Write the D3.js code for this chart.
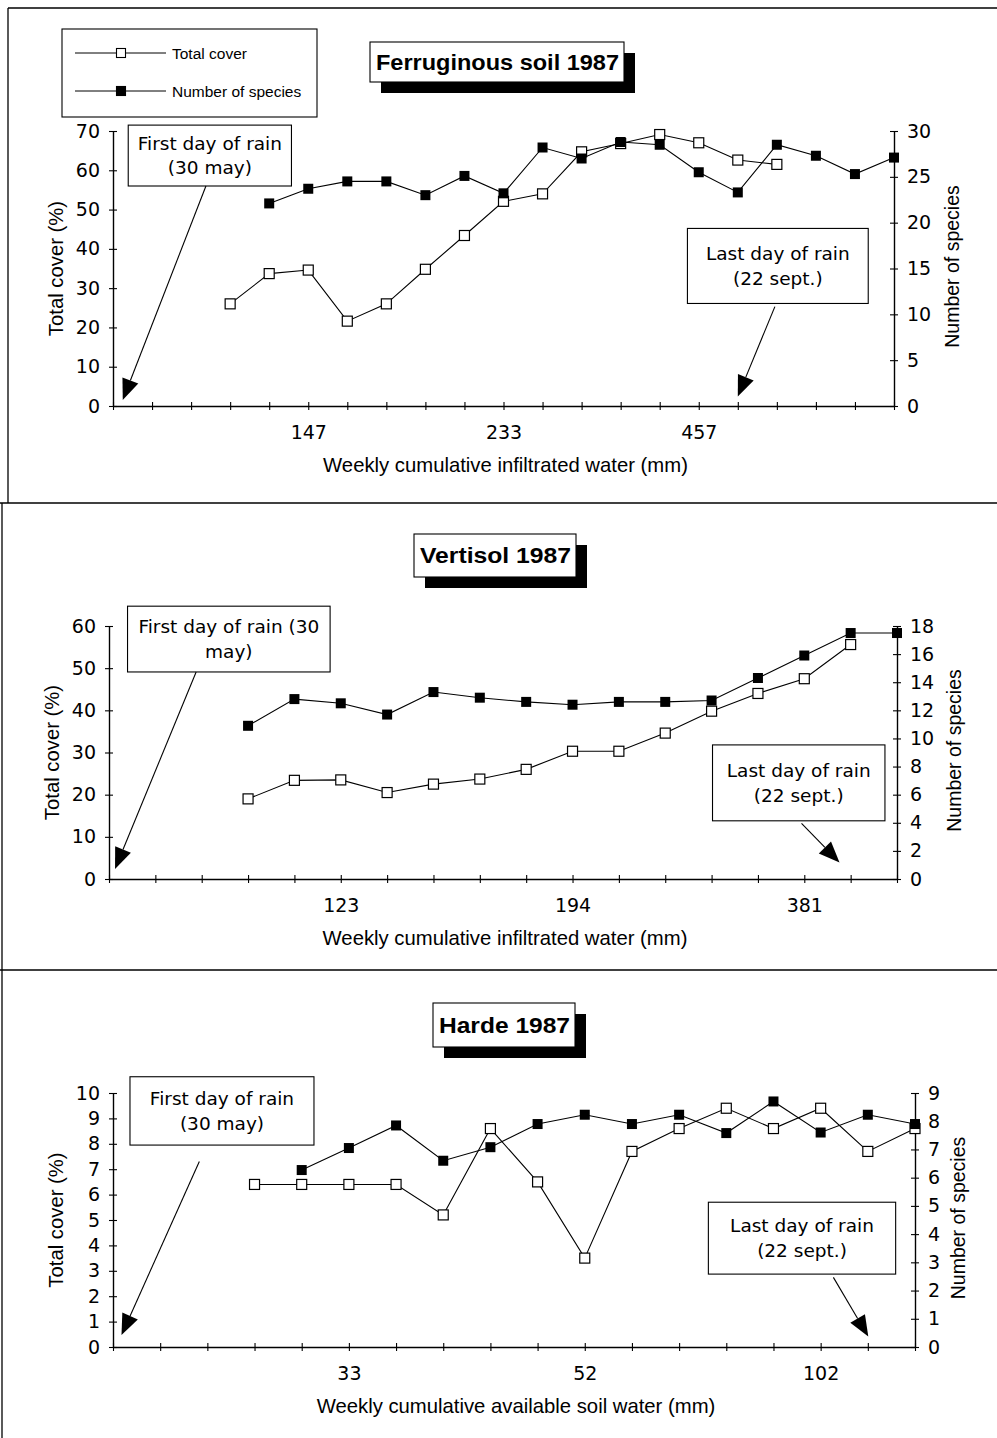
<!DOCTYPE html>
<html><head><meta charset="utf-8">
<script src="https://cdn.jsdelivr.net/npm/d3@7"></script>
<style>body{margin:0;background:#fff} svg{display:block}</style>
</head><body>
<svg id="c" width="997" height="1438"></svg>
<script>
// ---------- DATA ----------
const seriesNames = ["Total cover", "Number of species"];

const ferrTitle = "Ferruginous soil 1987";
const ferrXTitle = "Weekly cumulative infiltrated water (mm)";
const ferrXLabels = ["","","","","","147","","","","","233","","","","","457","","","","",""];
const ferrCover   = [null,null,null,26,33.7,34.6,21.6,26,34.8,43.4,52.1,54,64.7,66.8,69.1,67,62.6,61.5,null,null,null];
const ferrSpecies = [null,null,null,null,22.1,23.7,24.5,24.5,23,25.1,23.2,28.2,27,28.8,28.5,25.5,23.3,28.5,27.3,25.3,27.1];
const ferrCoverTicks   = [0,10,20,30,40,50,60,70];
const ferrSpeciesTicks = [0,5,10,15,20,25,30];

const vertTitle = "Vertisol 1987";
const vertXTitle = "Weekly cumulative infiltrated water (mm)";
const vertXLabels = ["","","","","","123","","","","","194","","","","","381","",""];
const vertCover   = [null,null,null,19,23.4,23.5,20.5,22.5,23.7,26,30.3,30.3,34.6,39.8,44,47.5,55.6,null];
const vertSpecies = [null,null,null,10.9,12.8,12.5,11.7,13.3,12.9,12.6,12.4,12.6,12.6,12.7,14.3,15.9,17.5,17.5];
const vertCoverTicks   = [0,10,20,30,40,50,60];
const vertSpeciesTicks = [0,2,4,6,8,10,12,14,16,18];

const hardeTitle = "Harde 1987";
const hardeXTitle = "Weekly cumulative available soil water (mm)";
const hardeXLabels = ["","","","","","33","","","","","52","","","","","102","",""];
const hardeCover   = [null,null,null,6.4,6.4,6.4,6.4,5.2,8.6,6.5,3.5,7.7,8.6,9.4,8.6,9.4,7.7,8.6];
const hardeSpecies = [null,null,null,null,6.27,7.05,7.85,6.6,7.08,7.9,8.23,7.9,8.23,7.58,8.7,7.6,8.23,7.9];
const hardeCoverTicks   = [0,1,2,3,4,5,6,7,8,9,10];
const hardeSpeciesTicks = [0,1,2,3,4,5,6,7,8,9];

const yLeftTitle = "Total cover (%)";
const yRightTitle = "Number of species";
const firstRainLines = ["First day of rain", "(30 may)"];
const firstRainLines2 = ["First day of rain (30", "may)"];
const lastRainLines = ["Last day of rain", "(22 sept.)"];

// ---------- LAYOUT ----------
const svg = d3.select("#c");
const TICKF = "'DejaVu Sans', Verdana, sans-serif";
const TXTF = "'Liberation Sans', Arial, sans-serif";

// frames
const frame = svg.append("g").attr("stroke","#000").attr("stroke-width",1.3).attr("fill","none");
frame.append("line").attr("x1",8).attr("y1",8).attr("x2",997).attr("y2",8);
frame.append("line").attr("x1",8).attr("y1",8).attr("x2",8).attr("y2",503);
frame.append("line").attr("x1",0).attr("y1",503).attr("x2",997).attr("y2",503);
frame.append("line").attr("x1",2).attr("y1",503).attr("x2",2).attr("y2",1438);
frame.append("line").attr("x1",0).attr("y1",970).attr("x2",997).attr("y2",970);

const panels = [
  {title: ferrTitle, titleX: 370, titleBase: 70, titleTop: 42, titleH: 40, titleW: 243,
   xTitle: ferrXTitle, xLabels: ferrXLabels, cover: ferrCover, species: ferrSpecies,
   cTicks: ferrCoverTicks, sTicks: ferrSpeciesTicks,
   left: 113, right: 894, top: 131, bottom: 406, rOff: 65,
   ann: [
     {lines: firstRainLines, box: [0.39, 4.57, 71.5, 56.0], from: [2.38, 56], to: [0.25, 1.5]},
     {lines: lastRainLines, box: [14.71, 19.34, 45.2, 26.1], from: [16.95, 25.3], to: [16.0, 2.4]}
   ]},
  {title: vertTitle, titleX: 414, titleBase: 563, titleTop: 534, titleH: 43, titleW: 151,
   xTitle: vertXTitle, xLabels: vertXLabels, cover: vertCover, species: vertSpecies,
   cTicks: vertCoverTicks, sTicks: vertSpeciesTicks,
   left: 109, right: 897, top: 626, bottom: 879, rOff: 64,
   ann: [
     {lines: firstRainLines2, box: [0.40, 4.77, 64.7, 49.1], from: [1.88, 49.1], to: [0.13, 2.4]},
     {lines: lastRainLines, box: [13.02, 16.74, 31.8, 13.8], from: [14.94, 13.2], to: [15.76, 3.9]}
   ]},
  {title: hardeTitle, titleX: 433, titleBase: 1033, titleTop: 1003, titleH: 44, titleW: 131,
   xTitle: hardeXTitle, xLabels: hardeXLabels, cover: hardeCover, species: hardeSpecies,
   cTicks: hardeCoverTicks, sTicks: hardeSpeciesTicks,
   left: 113, right: 915, top: 1093, bottom: 1347, rOff: 50,
   ann: [
     {lines: firstRainLines, box: [0.36, 4.26, 10.64, 7.95], from: [1.83, 7.3], to: [0.18, 0.47]},
     {lines: lastRainLines, box: [12.62, 16.59, 5.70, 2.87], from: [15.27, 2.74], to: [16.01, 0.41]}
   ]}
];

function drawArrow(g, x1, y1, x2, y2) {
  const dx = x2 - x1, dy = y2 - y1, L = Math.hypot(dx, dy);
  const ux = dx / L, uy = dy / L, hl = 21, hw = 8.5;
  const bx = x2 - ux * hl, by = y2 - uy * hl;
  g.append("line").attr("x1", x1).attr("y1", y1).attr("x2", bx).attr("y2", by)
    .attr("stroke", "#000").attr("stroke-width", 1.1);
  g.append("path")
    .attr("d", `M${x2},${y2}L${bx - uy * hw},${by + ux * hw}L${bx + uy * hw},${by - ux * hw}Z`)
    .attr("fill", "#000");
}

panels.forEach(p => {
  const n = p.xLabels.length;
  const x = d3.scaleLinear().domain([0, n - 1]).range([p.left, p.right]);
  const yL = d3.scaleLinear().domain([0, d3.max(p.cTicks)]).range([p.bottom, p.top]);
  const yR = d3.scaleLinear().domain([0, d3.max(p.sTicks)]).range([p.bottom, p.top]);
  const g = svg.append("g");

  // axes
  const ax = g.append("g").attr("transform", `translate(0,${p.bottom})`)
    .call(d3.axisBottom(x).tickValues(d3.range(n)).tickFormat(i => p.xLabels[i])
      .tickSizeInner(4).tickSizeOuter(0).tickPadding(16));
  ax.selectAll(".tick line").attr("y1", -4);
  const al = g.append("g").attr("transform", `translate(${p.left},0)`)
    .call(d3.axisLeft(yL).tickValues(p.cTicks).tickSizeInner(4).tickSizeOuter(0).tickPadding(9));
  al.selectAll(".tick line").attr("x1", 4);
  const ar = g.append("g").attr("transform", `translate(${p.right},0)`)
    .call(d3.axisRight(yR).tickValues(p.sTicks).tickSizeInner(4).tickSizeOuter(0).tickPadding(9));
  ar.selectAll(".tick line").attr("x1", -4);
  [ax, al, ar].forEach(a => {
    a.selectAll("path.domain").attr("stroke", "#000").attr("stroke-width", 1.4);
    a.selectAll(".tick line").attr("stroke", "#000").attr("stroke-width", 1.1);
    a.selectAll("text").attr("font-family", TICKF).attr("font-size", 19).attr("fill", "#000");
  });

  // axis titles
  g.append("text").attr("x", (p.left + p.right) / 2 + 2).attr("y", p.bottom + 66)
    .attr("text-anchor", "middle").attr("font-family", TXTF).attr("font-size", 20.3).text(p.xTitle);
  const cy = (p.top + p.bottom) / 2;
  g.append("text").attr("transform", `translate(${p.left - 50},${cy}) rotate(-90)`)
    .attr("text-anchor", "middle").attr("font-family", TXTF).attr("font-size", 20.3).text(yLeftTitle);
  g.append("text").attr("transform", `translate(${p.right + p.rOff},${cy - 2}) rotate(-90)`)
    .attr("text-anchor", "middle").attr("font-family", TXTF).attr("font-size", 19.5).text(yRightTitle);

  // series lines
  const lineC = d3.line().defined(d => d != null).x((d, i) => x(i)).y(d => yL(d));
  const lineS = d3.line().defined(d => d != null).x((d, i) => x(i)).y(d => yR(d));
  g.append("path").attr("d", lineC(p.cover)).attr("fill", "none").attr("stroke", "#000").attr("stroke-width", 1.1);
  g.append("path").attr("d", lineS(p.species)).attr("fill", "none").attr("stroke", "#000").attr("stroke-width", 1.1);

  const s = 10;
  g.selectAll(null).data(p.cover.map((v, i) => [i, v]).filter(d => d[1] != null)).join("rect")
    .attr("x", d => x(d[0]) - s / 2).attr("y", d => yL(d[1]) - s / 2).attr("width", s).attr("height", s)
    .attr("fill", "#fff").attr("stroke", "#000").attr("stroke-width", 1.2);
  g.selectAll(null).data(p.species.map((v, i) => [i, v]).filter(d => d[1] != null)).join("rect")
    .attr("x", d => x(d[0]) - s / 2).attr("y", d => yR(d[1]) - s / 2).attr("width", s).attr("height", s)
    .attr("fill", "#000");

  // annotations
  p.ann.forEach(a => {
    const bx0 = x(a.box[0]), bx1 = x(a.box[1]), by0 = yL(a.box[2]), by1 = yL(a.box[3]);
    g.append("rect").attr("x", bx0).attr("y", by0).attr("width", bx1 - bx0).attr("height", by1 - by0)
      .attr("fill", "#fff").attr("stroke", "#000").attr("stroke-width", 1.1);
    const mid = (by0 + by1) / 2;
    a.lines.forEach((t, k) => {
      g.append("text").attr("x", (bx0 + bx1) / 2).attr("y", mid + (k - 0.5) * 24.5 + 6.5)
        .attr("text-anchor", "middle").attr("font-family", TICKF).attr("font-size", 18.5).text(t);
    });
    drawArrow(g, x(a.from[0]), yL(a.from[1]), x(a.to[0]), yL(a.to[1]));
  });

  // chart title with shadow
  const tg = svg.append("g");
  tg.append("text").attr("x", p.titleX + 6).attr("y", p.titleBase)
    .attr("font-family", TXTF).attr("font-weight", "bold").attr("font-size", 22.5)
    .attr("textLength", p.titleW).attr("lengthAdjust", "spacingAndGlyphs").text(p.title);
  const w = p.titleW + 11;
  tg.insert("rect", "text").attr("x", p.titleX + 11).attr("y", p.titleTop + 11).attr("width", w).attr("height", p.titleH)
    .attr("fill", "#000");
  tg.insert("rect", "text").attr("x", p.titleX).attr("y", p.titleTop).attr("width", w).attr("height", p.titleH)
    .attr("fill", "#fff").attr("stroke", "#000").attr("stroke-width", 1.1);
});

// legend (panel 1)
const lg = svg.append("g");
lg.append("rect").attr("x", 62).attr("y", 29).attr("width", 255).attr("height", 88)
  .attr("fill", "#fff").attr("stroke", "#000").attr("stroke-width", 1.1);
seriesNames.forEach((name, k) => {
  const yy = 53 + k * 38;
  lg.append("line").attr("x1", 75).attr("x2", 166).attr("y1", yy).attr("y2", yy).attr("stroke", "#000").attr("stroke-width", 1);
  lg.append("rect").attr("x", 121 - 4.5).attr("y", yy - 4.5).attr("width", 9).attr("height", 9)
    .attr("fill", k === 0 ? "#fff" : "#000").attr("stroke", "#000").attr("stroke-width", 1.1);
  lg.append("text").attr("x", 172).attr("y", yy + 5.5).attr("font-family", TXTF).attr("font-size", 15.5).text(name);
});
</script>
</body></html>
